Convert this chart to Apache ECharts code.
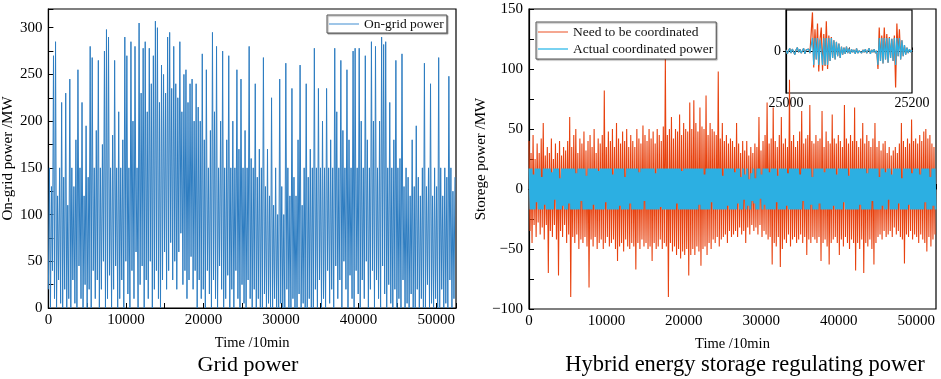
<!DOCTYPE html>
<html>
<head>
<meta charset="utf-8">
<script src="https://cdn.jsdelivr.net/npm/echarts@6/dist/echarts.min.js"></script>
<style>
  html, body { margin: 0; padding: 0; background: #fff; }
  #chart { width: 941px; height: 379px; }
</style>
</head>
<body>
<div id="chart"></div>
<script>
// time axis: 1 year at 10 min steps
var T_MAX = 52560;
var SEG = 200;                 // segments the envelope was read in
var STEP = T_MAX / SEG;

// left panel: on-grid power, low / high read per segment (MW)
var gridLow = [
  20, 0, 40, 10, 0, 30, 5, 0, 20, 0,
  10, 0, 30, 5, 0, 45, 10, 0, 25, 0,
  20, 0, 40, 10, 30, 0, 20, 50, 0, 10,
  35, 0, 20, 45, 0, 10, 30, 0, 50, 15,
  0, 40, 10, 60, 0, 25, 45, 0, 30, 10,
  50, 0, 20, 40, 10, 0, 30, 60, 20, 40,
  70, 30, 50, 20, 60, 80, 25, 40, 10, 30,
  55, 20, 40, 0, 30, 10, 20, 0, 40, 15,
  0, 30, 10, 0, 45, 20, 0, 10, 35, 0,
  20, 0, 40, 10, 0, 25, 5, 0, 30, 10,
  0, 20, 0, 10, 0, 0, 15, 0, 5, 0,
  0, 10, 0, 0, 5, 0, 0, 20, 0, 0,
  10, 0, 0, 15, 0, 5, 0, 0, 10, 0,
  0, 20, 0, 30, 0, 10, 0, 40, 5, 20,
  0, 45, 10, 30, 0, 50, 20, 0, 35, 10,
  0, 40, 15, 0, 30, 10, 50, 0, 20, 40,
  0, 30, 10, 0, 45, 15, 0, 25, 5, 0,
  20, 0, 10, 0, 30, 0, 5, 0, 15, 0,
  0, 20, 0, 10, 0, 0, 25, 0, 5, 0,
  10, 0, 0, 20, 0, 5, 0, 30, 0, 10
];
var gridHigh = [
  150, 130, 270, 285, 120, 150, 220, 140, 230, 110,
  245, 150, 130, 180, 255, 150, 220, 120, 195, 140,
  280, 268, 150, 190, 265, 150, 175, 275, 298, 290,
  150, 185, 265, 150, 210, 150, 180, 290, 270, 150,
  285, 200, 280, 150, 305, 230, 278, 285, 210, 278,
  240, 270, 307, 300, 220, 260, 250, 230, 290, 295,
  235, 280, 240, 225, 285, 210, 250, 255, 220, 240,
  245, 200, 240, 215, 200, 272, 180, 255, 150, 190,
  295, 210, 280, 150, 200, 275, 150, 180, 270, 150,
  200, 150, 255, 170, 245, 150, 190, 150, 280, 160,
  150, 240, 140, 170, 150, 268, 130, 170, 120, 225,
  110, 150, 100, 245, 130, 100, 262, 150, 120, 235,
  140, 120, 180, 260, 110, 150, 240, 140, 170, 150,
  278, 150, 235, 150, 200, 150, 235, 150, 180, 150,
  278, 210, 150, 265, 190, 150, 255, 180, 150, 275,
  278, 150, 278, 200, 150, 270, 180, 150, 285, 200,
  280, 150, 200, 290, 282, 285, 150, 220, 150, 180,
  265, 150, 160, 272, 130, 150, 140, 120, 180, 130,
  195, 140, 120, 150, 262, 130, 150, 240, 120, 150,
  130, 268, 150, 120, 150, 140, 248, 150, 125, 140
];

// right panel: power that needs coordinating, up / down per segment (MW)
var needUp = [
  40, 30, 45, 25, 38, 30, 42, 55, 28, 35,
  30, 42, 25, 38, 30, 40, 28, 35, 32, 40,
  60, 35, 45, 50, 30, 42, 38, 48, 32, 40,
  45, 35, 50, 30, 42, 38, 45, 82, 35, 48,
  40, 50, 35, 55, 42, 38, 48, 40, 50, 35,
  45, 40, 35, 50, 42, 38, 53, 45, 40, 50,
  42, 48, 38, 50, 45, 40, 52, 110, 45, 50,
  60, 42, 50, 48, 62, 45, 55, 50, 48, 72,
  50, 74, 55, 48, 68, 52, 50, 78, 45, 55,
  50, 48, 45, 98, 42, 55, 40, 45, 38, 42,
  40, 35, 55, 38, 30, 40, 32, 40, 28, 35,
  30, 38, 35, 60, 32, 40, 45, 72, 38, 42,
  68, 40, 35, 45, 60, 38, 42, 35, 91, 40,
  45, 35, 40, 48, 65, 38, 42, 45, 70, 40,
  38, 45, 40, 42, 65, 35, 48, 40, 38, 62,
  42, 38, 45, 40, 35, 70, 42, 38, 45, 40,
  68, 40, 35, 42, 55, 38, 45, 40, 35, 42,
  55, 35, 40, 32, 38, 40, 30, 35, 28, 32,
  35, 30, 38, 55, 40, 35, 42, 38, 58, 40,
  42, 38, 45, 40, 48, 50, 42, 45, 38, 35
];
var needDown = [
  -35, -45, -30, -40, -28, -38, -32, -42, -30, -70,
  -35, -40, -30, -42, -72, -35, -40, -30, -45, -38,
  -90, -40, -45, -38, -50, -42, -45, -40, -48, -82,
  -42, -48, -40, -50, -45, -42, -50, -45, -40, -48,
  -45, -42, -50, -60, -48, -45, -52, -42, -48, -50,
  -45, -48, -67, -45, -50, -42, -48, -45, -50, -48,
  -60, -45, -50, -48, -42, -50, -45, -48, -90, -45,
  -52, -48, -55, -50, -58, -52, -55, -50, -72, -55,
  -50, -55, -48, -52, -64, -50, -48, -55, -45, -50,
  -42, -45, -40, -48, -42, -40, -38, -45, -35, -40,
  -38, -35, -40, -32, -38, -35, -45, -32, -38, -30,
  -35, -32, -38, -30, -40, -35, -38, -42, -40, -63,
  -45, -48, -40, -65, -50, -42, -45, -38, -48, -42,
  -40, -45, -42, -38, -45, -40, -55, -42, -45, -40,
  -42, -45, -40, -60, -45, -42, -48, -63, -45, -42,
  -40, -45, -55, -42, -48, -40, -45, -50, -42, -45,
  -68, -45, -50, -42, -70, -45, -48, -42, -50, -63,
  -45, -40, -38, -42, -35, -40, -38, -35, -40, -32,
  -38, -35, -40, -42, -62, -38, -40, -35, -42, -38,
  -40, -45, -38, -42, -45, -52, -40, -48, -42, -38
];

// actual coordinated power, up / down per segment (MW), limited near +-17
var actUp = [
  17, 17, 12, 17, 17, 17, 10, 17, 17, 17,
  17, 14, 17, 17, 17, 9, 17, 17, 17, 17,
  17, 17, 17, 13, 17, 17, 17, 17, 11, 17,
  17, 17, 17, 17, 15, 17, 17, 17, 17, 17,
  17, 12, 17, 17, 17, 17, 17, 10, 17, 17,
  17, 17, 17, 17, 14, 17, 17, 17, 17, 17,
  17, 17, 13, 17, 17, 17, 17, 17, 17, 17,
  17, 17, 17, 17, 17, 15, 17, 17, 17, 17,
  17, 17, 17, 17, 17, 17, 12, 17, 17, 17,
  17, 17, 17, 17, 17, 11, 17, 17, 17, 17,
  17, 14, 17, 17, 10, 17, 12, 17, 8, 13,
  17, 9, 17, 17, 12, 17, 17, 17, 14, 17,
  17, 17, 11, 17, 17, 17, 17, 13, 17, 17,
  17, 17, 17, 12, 17, 17, 17, 17, 17, 10,
  17, 17, 17, 17, 17, 14, 17, 17, 17, 17,
  17, 12, 17, 17, 17, 17, 17, 11, 17, 17,
  17, 17, 17, 17, 17, 17, 13, 17, 17, 17,
  17, 17, 10, 17, 17, 14, 17, 17, 12, 17,
  17, 17, 17, 9, 17, 17, 17, 17, 13, 17,
  17, 17, 12, 17, 17, 17, 17, 10, 17, 17
];
var actDown = [
  -17, -17, -17, -11, -17, -17, -17, -13, -17, -17,
  -17, -17, -9, -17, -17, -17, -14, -17, -17, -12,
  -17, -17, -17, -17, -17, -10, -17, -17, -17, -17,
  -17, -13, -17, -17, -17, -17, -17, -11, -17, -17,
  -17, -17, -17, -17, -14, -17, -17, -17, -17, -12,
  -17, -17, -17, -17, -17, -17, -10, -17, -17, -17,
  -17, -17, -17, -17, -15, -17, -17, -17, -17, -17,
  -17, -17, -12, -17, -17, -17, -17, -17, -17, -17,
  -17, -17, -17, -13, -17, -17, -17, -17, -17, -11,
  -17, -17, -17, -17, -17, -17, -17, -14, -17, -17,
  -17, -17, -12, -17, -17, -9, -17, -14, -17, -10,
  -12, -17, -17, -8, -17, -13, -17, -17, -17, -17,
  -17, -11, -17, -17, -17, -17, -14, -17, -17, -17,
  -17, -17, -17, -17, -10, -17, -17, -17, -13, -17,
  -17, -17, -12, -17, -17, -17, -17, -17, -17, -14,
  -17, -17, -17, -17, -11, -17, -17, -17, -17, -17,
  -17, -17, -13, -17, -17, -17, -17, -17, -10, -17,
  -17, -17, -17, -14, -17, -17, -9, -17, -17, -17,
  -17, -12, -17, -17, -17, -17, -13, -17, -17, -17,
  -17, -17, -17, -17, -11, -17, -17, -17, -14, -17
];

// inset: detail 25000..25200, every 2 steps
var INSET_T0 = 25000;
var INSET_DT = 2;
var insetNeed = [
  2, -3, 1, 4, -2, 3, 0, -4, 2, 5,
  -1, 3, -2, 1, 4, -3, 2, 0, 3, -2,
  -4, 49, -20, 28, -10, 35, -25, 15, 30, -24,
  22, -18, 38, -22, 20, -12, 18, -8, 14, -10,
  12, -6, 10, -8, 6, -4, 5, -3, 6, -2,
  4, -3, 3, -1, 2, -3, 4, -2, 1, 3,
  -2, 2, -1, 3, -2, 1, 4, -3, 2, -1,
  3, -2, 1, -22, 30, -12, 20, -15, 30, -10,
  22, -14, 18, -8, 16, -12, 20, -45, 35, -6,
  28, -10, 14, -6, 8, -4, 5, -2, 3, -1,
  2
];
var insetActual = [
  2, -3, 1, 4, -2, 3, 0, -4, 2, 5,
  -1, 3, -2, 1, 4, -3, 2, 0, 3, -2,
  -4, 17, -17, 17, -10, 17, -17, 15, 17, -17,
  17, -17, 17, -17, 17, -12, 17, -8, 14, -10,
  12, -6, 10, -8, 6, -4, 5, -3, 6, -2,
  4, -3, 3, -1, 2, -3, 4, -2, 1, 3,
  -2, 2, -1, 3, -2, 1, 4, -3, 2, -1,
  3, -2, 1, -17, 17, -12, 17, -15, 17, -10,
  17, -14, 17, -8, 16, -12, 17, -17, 17, -6,
  17, -10, 14, -6, 8, -4, 5, -2, 3, -1,
  2
];

var FONT = 'Liberation Serif';

function zigzag(a, b, offA, offB) {
  var out = [];
  for (var k = 0; k < a.length; k++) {
    out.push([(k + offA) * STEP, a[k]]);
    out.push([(k + offB) * STEP, b[k]]);
  }
  return out;
}
function inset(vals) {
  return vals.map(function (v, i) { return [INSET_T0 + i * INSET_DT, v]; });
}
function plain(v) { return String(v).replace('-', '\u2212'); }

var tickStyle = { color: '#000', width: 1 };
function xAxisMain(idx) {
  return {
    gridIndex: idx, type: 'value', min: 0, max: T_MAX, interval: 10000,
    name: 'Time /10min', nameLocation: 'middle', nameGap: 28,
    nameTextStyle: { fontFamily: FONT, fontSize: 14.5, color: '#000' },
    axisLine: { show: true, lineStyle: { color: '#000', width: 1.2 } },
    axisTick: { inside: true, length: 5, lineStyle: tickStyle },
    minorTick: { show: true, splitNumber: 2, length: 5, lineStyle: tickStyle },
    axisLabel: { fontFamily: FONT, fontSize: 15, color: '#000', margin: 5, showMaxLabel: false, formatter: plain },
    splitLine: { show: false }
  };
}

var chart = echarts.init(document.getElementById('chart'));
var option = {
  animation: false,
  backgroundColor: '#fff',
  grid: [
    { left: 48, top: 9, width: 408, height: 299, show: true, borderColor: '#000', borderWidth: 1.2, backgroundColor: 'transparent' },
    { left: 529, top: 9, width: 407, height: 300, show: true, borderColor: '#000', borderWidth: 1.2, backgroundColor: 'transparent' },
    { left: 786, top: 10, width: 126, height: 83, show: true, borderColor: '#000', borderWidth: 1.2, backgroundColor: 'transparent' }
  ],
  xAxis: [
    xAxisMain(0),
    xAxisMain(1),
    {
      gridIndex: 2, type: 'value', min: 25000, max: 25200, interval: 100,
      axisLine: { show: true, lineStyle: { color: '#000', width: 1.2 } },
      axisTick: { inside: true, length: 4, lineStyle: tickStyle },
      axisLabel: {
        fontFamily: FONT, fontSize: 14, color: '#000', margin: 3,
        formatter: function (v) { return v === 25100 ? '' : String(v); }
      },
      splitLine: { show: false }
    }
  ],
  yAxis: [
    {
      gridIndex: 0, type: 'value', min: 0, max: 320, interval: 50,
      name: 'On-grid power /MW', nameLocation: 'middle', nameGap: 31,
      nameTextStyle: { fontFamily: FONT, fontSize: 15, color: '#000' },
      axisLine: { show: true, lineStyle: { color: '#000', width: 1.2 } },
      axisTick: { inside: true, length: 5, lineStyle: tickStyle },
      minorTick: { show: true, splitNumber: 2, length: 5, lineStyle: tickStyle },
      axisLabel: { fontFamily: FONT, fontSize: 15, color: '#000', margin: 6, showMaxLabel: false },
      splitLine: { show: false }
    },
    {
      gridIndex: 1, type: 'value', min: -100, max: 150, interval: 50,
      name: 'Storege power /MW', nameLocation: 'middle', nameGap: 38,
      nameTextStyle: { fontFamily: FONT, fontSize: 15, color: '#000' },
      axisLine: { show: true, lineStyle: { color: '#000', width: 1.2 } },
      axisTick: { inside: true, length: 5, lineStyle: tickStyle },
      minorTick: { show: true, splitNumber: 2, length: 5, lineStyle: tickStyle },
      axisLabel: { fontFamily: FONT, fontSize: 15, color: '#000', margin: 6, formatter: plain },
      splitLine: { show: false }
    },
    {
      gridIndex: 2, type: 'value', min: -52, max: 52, interval: 52,
      axisLine: { show: true, lineStyle: { color: '#000', width: 1.2 } },
      axisTick: { inside: false, length: 3, lineStyle: tickStyle },
      axisLabel: { fontFamily: FONT, fontSize: 14, color: '#000', margin: 5, showMinLabel: false, showMaxLabel: false },
      splitLine: { show: false }
    }
  ],
  legend: [
    {
      left: 327, top: 15, orient: 'vertical',
      data: [{ name: 'On-grid power', itemStyle: { color: '#7fb3e0' } }],
      icon: 'rect', itemWidth: 30, itemHeight: 1.5, itemGap: 4,
      padding: [2, 3, 2, 2],
      borderColor: '#555', borderWidth: 1, backgroundColor: '#fff',
      shadowColor: 'rgba(0,0,0,0.35)', shadowOffsetX: 1, shadowOffsetY: 1, shadowBlur: 1,
      textStyle: { fontFamily: FONT, fontSize: 13.5, color: '#111' }
    },
    {
      left: 536, top: 22, orient: 'vertical',
      data: [
        { name: 'Need to be coordinated', itemStyle: { color: '#f28a6c' } },
        { name: 'Actual coordinated power', itemStyle: { color: '#4cc3ec' } }
      ],
      icon: 'rect', itemWidth: 30, itemHeight: 1.5, itemGap: 3,
      padding: [3, 3, 3, 2],
      borderColor: '#555', borderWidth: 1, backgroundColor: '#fff',
      shadowColor: 'rgba(0,0,0,0.35)', shadowOffsetX: 1, shadowOffsetY: 1, shadowBlur: 1,
      textStyle: { fontFamily: FONT, fontSize: 13.5, color: '#111' }
    }
  ],
  graphic: [
    { type: 'text', x: 248, y: 365, style: { text: 'Grid power', font: '22px "Liberation Serif"', fill: '#000', textAlign: 'center', textVerticalAlign: 'middle' } },
    { type: 'text', x: 745, y: 365, style: { text: 'Hybrid energy storage regulating power', font: '22.5px "Liberation Serif"', fill: '#000', textAlign: 'center', textVerticalAlign: 'middle' } }
  ],
  series: [
    {
      name: 'On-grid power', type: 'line', xAxisIndex: 0, yAxisIndex: 0,
      data: zigzag(gridLow, gridHigh, 0, 0.5),
      showSymbol: false, silent: true, color: '#2e7dc1',
      lineStyle: { width: 1, color: '#2e7dc1' }
    },
    {
      name: 'Need to be coordinated', type: 'line', xAxisIndex: 1, yAxisIndex: 1,
      data: zigzag(needUp, needDown, 0, 0.5),
      showSymbol: false, silent: true, color: '#e8420f',
      lineStyle: { width: 1.1, color: '#e8420f' }
    },
    {
      name: 'Actual coordinated power', type: 'line', xAxisIndex: 1, yAxisIndex: 1,
      data: zigzag(actUp, actDown, 0.25, 0.75),
      showSymbol: false, silent: true, color: '#2cafe2', z: 3,
      lineStyle: { width: 2, color: '#2cafe2' }
    },
    {
      name: 'inset need', type: 'line', xAxisIndex: 2, yAxisIndex: 2,
      data: inset(insetNeed),
      showSymbol: false, silent: true,
      lineStyle: { width: 1.2, color: '#e8420f' }
    },
    {
      name: 'inset actual', type: 'line', xAxisIndex: 2, yAxisIndex: 2,
      data: inset(insetActual),
      showSymbol: false, silent: true, z: 3,
      lineStyle: { width: 1.2, color: '#2cafe2' }
    }
  ]
};
chart.setOption(option);
</script>
</body>
</html>
